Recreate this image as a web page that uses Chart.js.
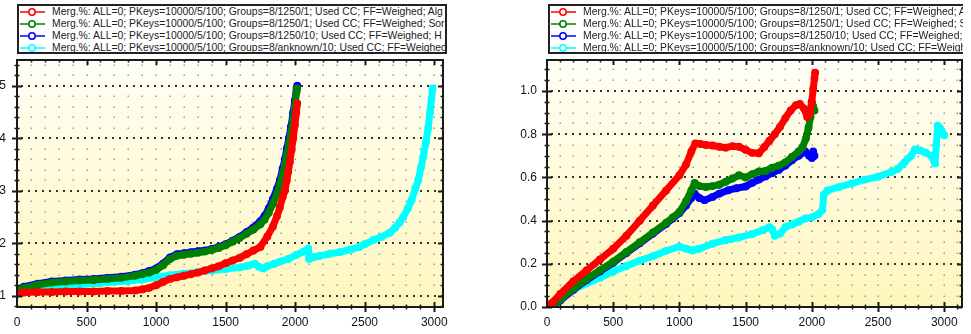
<!DOCTYPE html>
<html>
<head>
<meta charset="utf-8">
<script src="https://cdn.jsdelivr.net/npm/chart.js@4.4.1/dist/chart.umd.min.js"></script>
<style>
  html, body { margin: 0; padding: 0; background: #fff; overflow: hidden; }
  #wrap { position: relative; width: 971px; height: 334px; }
  canvas { position: absolute; top: 0; }
  .clip { position: absolute; left: 0; top: 0; width: 963px; height: 60px; overflow: hidden; }
  .legend {
    position: absolute; top: 4px; height: 50px; box-sizing: border-box;
    border: 2px solid #222; background: #fff; overflow: hidden; white-space: nowrap;
    font: 10.4px "Liberation Sans", Arial, sans-serif; color: #222;
  }
  .legend .row { height: 12px; line-height: 12px; position: relative; }
  .legend svg { position: absolute; left: 0; top: 0; }
  .legend span { position: absolute; left: 33px; top: 0; }
</style>
</head>
<body>
<div id="wrap">
  <canvas id="chartLeft" width="485" height="334" style="left:0"></canvas>
  <canvas id="chartRight" width="486" height="334" style="left:485px"></canvas>
  <div class="clip">
    <div class="legend" id="legendLeft" style="left:17px; width:430px"></div>
    <div class="legend" id="legendRight" style="left:548px; width:440px"></div>
  </div>
</div>
<script>
// labels and ticks
const seriesLabels = [
  'Merg.%: ALL=0; PKeys=10000/5/100; Groups=8/1250/1; Used CC; FF=Weighed; Alg',
  'Merg.%: ALL=0; PKeys=10000/5/100; Groups=8/1250/1; Used CC; FF=Weighed; Sor',
  'Merg.%: ALL=0; PKeys=10000/5/100; Groups=8/1250/10; Used CC; FF=Weighed; H',
  'Merg.%: ALL=0; PKeys=10000/5/100; Groups=8/anknown/10; Used CC; FF=Weighed'
];
const xTicks = [0, 500, 1000, 1500, 2000, 2500, 3000];
const yTicksLeft = [1, 2, 3, 4, 5];
const yTicksRight = [0, 0.2, 0.4, 0.6, 0.8, 1.0];

// left chart series [x, y]
const redLeft = [[0,1.04],[50,1.06],[150,1.07],[250,1.07],[350,1.08],[450,1.08],[550,1.08],[650,1.09],[750,1.09],[850,1.10],[900,1.12],[950,1.15],[1000,1.20],[1050,1.26],[1100,1.32],[1150,1.35],[1200,1.38],[1250,1.41],[1300,1.44],[1350,1.48],[1400,1.52],[1450,1.56],[1500,1.62],[1550,1.67],[1600,1.72],[1650,1.79],[1700,1.86],[1750,1.93],[1800,2.13],[1840,2.32],[1870,2.52],[1890,2.68],[1910,2.88],[1926,3.0],[1940,3.2],[1950,3.36],[1962,3.55],[1974,3.77],[1986,4.0],[1998,4.25],[2008,4.48],[2015,4.66]];
const greenLeft = [[0,1.10],[50,1.15],[150,1.21],[250,1.25],[350,1.27],[450,1.29],[550,1.30],[650,1.32],[750,1.34],[850,1.38],[900,1.41],[950,1.44],[1000,1.49],[1050,1.58],[1100,1.70],[1150,1.76],[1200,1.78],[1250,1.80],[1300,1.82],[1350,1.84],[1400,1.87],[1450,1.91],[1500,1.96],[1550,2.03],[1600,2.10],[1650,2.18],[1700,2.26],[1750,2.36],[1780,2.45],[1810,2.58],[1840,2.75],[1870,2.95],[1890,3.11],[1910,3.32],[1926,3.50],[1940,3.68],[1955,3.88],[1970,4.10],[1985,4.35],[1998,4.60],[2010,4.88],[2015,4.95]];
const blueLeft = [[0,1.12],[50,1.17],[150,1.23],[250,1.27],[350,1.29],[450,1.31],[550,1.32],[650,1.34],[750,1.36],[850,1.40],[900,1.43],[950,1.47],[1000,1.52],[1050,1.61],[1100,1.73],[1150,1.79],[1200,1.81],[1250,1.83],[1300,1.85],[1350,1.86],[1400,1.89],[1450,1.93],[1500,1.98],[1550,2.05],[1600,2.12],[1650,2.21],[1700,2.30],[1750,2.42],[1780,2.52],[1810,2.66],[1840,2.84],[1870,3.04],[1890,3.20],[1910,3.42],[1926,3.60],[1940,3.80],[1955,4.00],[1970,4.22],[1985,4.48],[1998,4.72],[2010,4.95],[2015,5.0]];
const cyanLeft = [[0,1.08],[200,1.16],[400,1.20],[600,1.24],[800,1.28],[900,1.31],[1000,1.35],[1100,1.39],[1200,1.42],[1300,1.45],[1400,1.48],[1500,1.51],[1600,1.54],[1660,1.57],[1710,1.61],[1740,1.55],[1770,1.52],[1800,1.56],[1850,1.61],[1890,1.65],[1950,1.70],[2010,1.78],[2060,1.84],[2094,1.90],[2100,1.70],[2140,1.74],[2178,1.76],[2250,1.80],[2320,1.83],[2400,1.88],[2460,1.93],[2500,1.98],[2561,2.06],[2620,2.12],[2681,2.20],[2720,2.30],[2750,2.39],[2777,2.50],[2810,2.66],[2837,2.82],[2865,3.05],[2885,3.20],[2905,3.45],[2921,3.65],[2940,3.92],[2957,4.20],[2970,4.50],[2980,4.75],[2988,4.95]];

// right chart series [x, y]
const redRight = [[0,0.0],[30,0.015],[100,0.06],[200,0.12],[300,0.17],[400,0.22],[500,0.27],[600,0.33],[700,0.40],[800,0.47],[900,0.54],[1000,0.61],[1050,0.66],[1090,0.72],[1120,0.757],[1160,0.755],[1200,0.75],[1250,0.748],[1300,0.742],[1350,0.738],[1400,0.745],[1450,0.742],[1500,0.728],[1550,0.714],[1600,0.712],[1640,0.74],[1680,0.77],[1720,0.80],[1760,0.835],[1800,0.875],[1840,0.91],[1880,0.935],[1910,0.94],[1940,0.92],[1965,0.88],[1985,0.90],[2000,0.95],[2010,1.01],[2020,1.06],[2025,1.085]];
const greenRight = [[30,0.0],[100,0.035],[200,0.085],[300,0.13],[400,0.17],[500,0.21],[600,0.255],[700,0.30],[800,0.345],[900,0.39],[950,0.415],[1000,0.44],[1050,0.49],[1090,0.54],[1115,0.575],[1150,0.56],[1200,0.556],[1250,0.56],[1300,0.566],[1350,0.58],[1400,0.595],[1450,0.61],[1500,0.60],[1550,0.615],[1600,0.628],[1650,0.63],[1700,0.645],[1750,0.655],[1800,0.67],[1850,0.695],[1900,0.72],[1930,0.74],[1955,0.78],[1975,0.83],[1990,0.88],[1998,0.95],[2010,0.93],[2020,0.91]];
const blueRight = [[30,0.0],[100,0.03],[200,0.08],[300,0.125],[400,0.165],[500,0.205],[600,0.25],[700,0.295],[800,0.34],[900,0.385],[950,0.41],[1000,0.435],[1050,0.47],[1090,0.505],[1115,0.525],[1150,0.505],[1190,0.495],[1250,0.51],[1300,0.525],[1370,0.541],[1430,0.55],[1500,0.558],[1550,0.575],[1600,0.59],[1650,0.605],[1700,0.62],[1750,0.635],[1800,0.655],[1850,0.68],[1900,0.70],[1950,0.72],[1980,0.70],[2000,0.69],[2010,0.72],[2020,0.70]];
const cyanRight = [[20,0.0],[100,0.045],[200,0.08],[300,0.11],[400,0.135],[500,0.165],[600,0.19],[700,0.215],[800,0.235],[900,0.26],[1000,0.28],[1050,0.27],[1100,0.262],[1150,0.27],[1250,0.293],[1350,0.31],[1450,0.322],[1550,0.338],[1630,0.356],[1680,0.37],[1700,0.36],[1720,0.33],[1760,0.34],[1800,0.37],[1850,0.382],[1900,0.395],[1950,0.41],[2000,0.415],[2050,0.43],[2080,0.45],[2090,0.52],[2120,0.54],[2200,0.555],[2300,0.572],[2400,0.59],[2500,0.603],[2600,0.625],[2650,0.64],[2700,0.67],[2750,0.70],[2780,0.73],[2820,0.725],[2860,0.715],[2900,0.70],[2930,0.665],[2940,0.75],[2950,0.84],[2965,0.83],[2980,0.815],[3000,0.795]];

const colors = ['#ff0000', '#008000', '#0000ff', '#00ffff'];
const tickFont = { family: '"Liberation Sans", Arial, sans-serif', size: 12 };

// background, dot lattice, dotted major lines, frame with ticks
const framePlugin = {
  id: 'frame',
  beforeDatasetsDraw(chart, args, o) {
    const { ctx, chartArea: a, scales: { x, y } } = chart;
    ctx.save();
    const g = ctx.createLinearGradient(0, a.top, 0, a.bottom);
    g.addColorStop(0, '#fffff6');
    g.addColorStop(1, '#fff6bd');
    ctx.fillStyle = g;
    ctx.fillRect(a.left, a.top, a.width, a.height);

    // light dots at minor intersections
    ctx.fillStyle = '#9c9c94';
    for (let i = 1; i * o.xMinor < x.max; i++) {
      const px = Math.round(x.getPixelForValue(i * o.xMinor));
      for (let j = Math.ceil(y.min / o.yMinor); j * o.yMinor < y.max; j++) {
        const v = j * o.yMinor;
        if (Math.abs(v / o.yMajor - Math.round(v / o.yMajor)) < 1e-6) continue;
        const py = Math.round(y.getPixelForValue(v));
        ctx.fillRect(px - 0.5, py - 0.5, 1.5, 1.5);
      }
    }
    // dark dotted lines at major y
    ctx.strokeStyle = '#333';
    ctx.lineWidth = 2;
    ctx.setLineDash([2, 5]);
    for (let j = Math.ceil(y.min / o.yMajor); j * o.yMajor < y.max; j++) {
      const py = Math.round(y.getPixelForValue(j * o.yMajor));
      if (py >= a.bottom - 1) continue;
      ctx.beginPath();
      ctx.moveTo(a.left + 4, py);
      ctx.lineTo(a.right, py);
      ctx.stroke();
    }
    ctx.restore();
  },
  afterDatasetsDraw(chart, args, o) {
    const { ctx, chartArea: a, scales: { x, y } } = chart;
    ctx.save();
    ctx.strokeStyle = '#1a1a1a';
    const isMajor = (v, m) => Math.abs(v / m - Math.round(v / m)) < 1e-6;
    // x ticks (bottom and top)
    for (let i = 1; i * o.xMinor < x.max; i++) {
      const v = i * o.xMinor;
      const px = Math.round(x.getPixelForValue(v)) + 0.5;
      const big = isMajor(v, o.xMajor);
      ctx.lineWidth = big ? 2 : 1.5;
      const l = big ? 5 : 2.5;
      ctx.beginPath();
      ctx.moveTo(px, a.bottom - l); ctx.lineTo(px, a.bottom + l);
      ctx.moveTo(px, a.top); ctx.lineTo(px, a.top + l);
      ctx.stroke();
    }
    // y ticks (left and right)
    for (let j = Math.ceil(y.min / o.yMinor); j * o.yMinor < y.max; j++) {
      const v = j * o.yMinor;
      const py = Math.round(y.getPixelForValue(v)) + 0.5;
      const big = isMajor(v, o.yMajor);
      ctx.lineWidth = big ? 2 : 1.5;
      const l = big ? 5 : 2.5;
      ctx.beginPath();
      ctx.moveTo(a.left - l, py); ctx.lineTo(a.left + l, py);
      ctx.moveTo(a.right - l, py); ctx.lineTo(a.right, py);
      ctx.stroke();
    }
    ctx.lineWidth = 2;
    ctx.strokeRect(a.left, a.top, a.width, a.height);
    ctx.restore();
  }
};

function makeDatasets(list) {
  return list.map((pts, i) => ({
    label: seriesLabels[i],
    data: pts.map(p => ({ x: p[0], y: p[1] })),
    showLine: true,
    borderColor: colors[i],
    borderWidth: 7,
    borderJoinStyle: 'round',
    borderCapStyle: 'round',
    pointRadius: 3.2,
    pointBorderWidth: 1.5,
    pointBorderColor: colors[i],
    pointBackgroundColor: 'rgba(0,0,0,0)'
  }));
}

function makeChart(id, series, opts) {
  return new Chart(document.getElementById(id), {
    type: 'scatter',
    data: { datasets: makeDatasets(series) },
    plugins: [framePlugin],
    options: {
      responsive: false,
      animation: false,
      devicePixelRatio: 1,
      layout: { padding: { top: 60, left: 0, right: opts.padRight, bottom: 0 } },
      plugins: {
        legend: { display: false },
        tooltip: { enabled: false },
        frame: opts.frame
      },
      scales: {
        x: {
          type: 'linear', min: 0, max: opts.xMax,
          afterFit: (s) => { s.height = 27; },
          afterBuildTicks: (s) => { s.ticks = xTicks.map(v => ({ value: v })); },
          ticks: { padding: 8, maxRotation: 0, autoSkip: false, font: tickFont, color: '#111', callback: (v) => String(v) },
          grid: { display: false, drawTicks: false },
          border: { display: false }
        },
        y: {
          type: 'linear', min: opts.yMin, max: opts.yMax,
          afterFit: (s) => { s.width = opts.yWidth; },
          afterBuildTicks: (s) => { s.ticks = opts.yTicks.map(v => ({ value: v })); },
          ticks: { padding: opts.yPad, autoSkip: false, font: tickFont, color: '#111', callback: opts.yFormat },
          grid: { display: false, drawTicks: false },
          border: { display: false }
        }
      }
    }
  });
}

const leftChart = makeChart('chartLeft', [redLeft, greenLeft, blueLeft, cyanLeft], {
  padRight: 42, xMax: 3063, yMin: 0.785, yMax: 5.49, yWidth: 17, yPad: 11,
  yTicks: yTicksLeft, yFormat: (v) => String(v),
  frame: { xMinor: 100, xMajor: 500, yMinor: 0.2, yMajor: 1 }
});
const rightChart = makeChart('chartRight', [redRight, greenRight, blueRight, cyanRight], {
  padRight: 9, xMax: 3134, yMin: 0, yMax: 1.144, yWidth: 62, yPad: 10,
  yTicks: yTicksRight, yFormat: (v) => v.toFixed(1),
  frame: { xMinor: 100, xMajor: 500, yMinor: 0.05, yMajor: 0.2 }
});

// boxed legend built from the chart datasets
function buildLegend(chart, id) {
  const box = document.getElementById(id);
  chart.data.datasets.forEach((ds) => {
    const row = document.createElement('div');
    row.className = 'row';
    row.innerHTML =
      '<svg width="30" height="12"><line x1="1" y1="6" x2="26" y2="6" stroke="' + ds.borderColor +
      '" stroke-width="1.5"/><circle cx="13" cy="6" r="3.2" fill="#fff" stroke="' + ds.borderColor +
      '" stroke-width="1.5"/></svg><span></span>';
    row.querySelector('span').textContent = ds.label;
    box.appendChild(row);
  });
}
buildLegend(leftChart, 'legendLeft');
buildLegend(rightChart, 'legendRight');
</script>
</body>
</html>
